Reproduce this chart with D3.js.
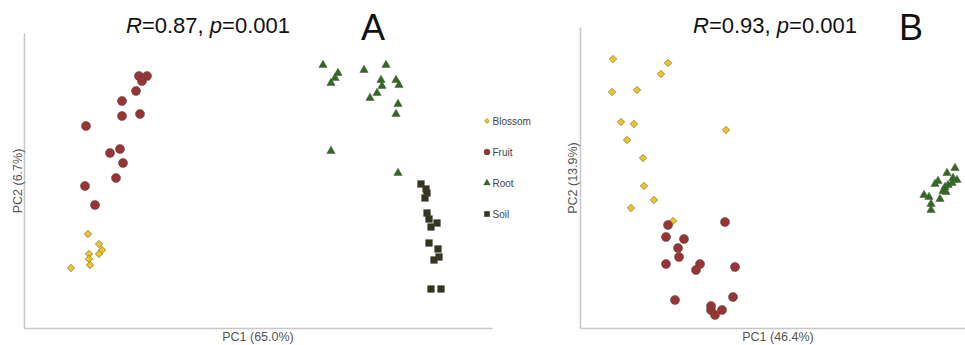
<!DOCTYPE html>
<html>
<head>
<meta charset="utf-8">
<script src="https://cdn.jsdelivr.net/npm/d3@7"></script>
<style>
  body { margin: 0; background: #fff; }
  text { font-family: "Liberation Sans", Arial, sans-serif; }
  .axis path { stroke: #c8c8c8; stroke-width: 1.6; }
</style>
</head>
<body>
<div class="charts"></div>
<script>
// PCoA scores (arbitrary units)
const groups = ["Blossom", "Fruit", "Root", "Soil"];
const groupColors = ["#f0c61c", "#9a3434", "#2f6d1b", "#36351f"];

// panel A
const blossomA = [[64,94],[75,84],[78,78],[75,74],[65,74],[65,69],[66,63],[47,60]];
const fruitA = [[115,252],[123,252],[118,247],[112,237],[98,227],[98,212],[116,214],[62,202],
  [96,179],[86,175],[99,165],[92,150],[61,142],[71,123]];
const rootA = [[299,263],[314,255],[311,250],[307,245],[340,258],[362,263],[357,248],[358,242],
  [372,248],[375,243],[353,235],[346,230],[374,224],[372,214],[307,177],[374,155]];
const soilA = [[397,144],[402,139],[403,135],[401,130],[403,115],[405,109],[413,105],[407,101],
  [405,85],[414,79],[415,71],[410,68],[407,39],[417,39]];

// panel B
const blossomB = [[33,269],[88,265],[81,254],[32,236],[57,238],[41,206],[54,204],[47,188],
  [146,198],[63,170],[64,142],[74,128],[51,120],[93,107]];
const fruitB = [[88,103],[145,106],[86,91],[104,89],[98,80],[99,71],[86,64],[120,64],
  [116,58],[155,61],[95,28],[153,31],[131,22],[131,18],[142,18],[135,13]];
const rootB = [[375,160],[367,155],[373,150],[377,148],[372,145],[358,147],[355,144],[368,143],
  [365,141],[363,137],[366,136],[344,133],[349,131],[360,129],[351,124],[351,118]];
const soilB = [];

const width = 965;
const height = 345;

const svg = d3.select(".charts")
  .append("svg")
    .attr("width", width)
    .attr("height", height);

// marker shapes per group
const shapes = [d3.symbolSquare, d3.symbolCircle, d3.symbolTriangle, d3.symbolSquare];
const sizes = [28, 66, 30, 46];
const legendSizes = [14, 30, 20, 30];

function marker(i, size) {
  return d3.symbol().type(shapes[i]).size(size)();
}

function drawPanel(p) {
  const x = d3.scaleLinear().domain(p.xDomain).range(p.xRange);
  const y = d3.scaleLinear().domain(p.yDomain).range(p.yRange);

  svg.append("g")
    .attr("class", "axis")
    .attr("transform", `translate(0, ${p.yRange[0]})`)
    .call(d3.axisBottom(x).tickValues([]).tickSizeOuter(0));

  svg.append("g")
    .attr("class", "axis")
    .attr("transform", `translate(${p.xRange[0]}, 0)`)
    .call(d3.axisLeft(y).tickValues([]).tickSizeOuter(0));

  p.series.forEach((data, i) => {
    svg.append("g")
      .selectAll("path")
      .data(data)
      .enter()
      .append("path")
        .attr("d", marker(i, sizes[i]))
        .attr("transform", d => `translate(${x(d[0])}, ${y(d[1])})` + (i == 0 ? " rotate(45)" : ""))
        .attr("fill", groupColors[i])
        .attr("stroke", "#4a4a4a")
        .attr("stroke-opacity", 0.6)
        .attr("stroke-width", 0.8);
  });

  // stats title
  const t = svg.append("text")
    .attr("x", p.titleX)
    .attr("y", 33)
    .attr("text-anchor", "middle")
    .style("font-size", "22px")
    .attr("fill", "#111");
  t.append("tspan").style("font-style", "italic").text("R");
  t.append("tspan").text("=" + p.r + ", ");
  t.append("tspan").style("font-style", "italic").text("p");
  t.append("tspan").text("=" + p.p);

  svg.append("text")
    .attr("x", p.letterX)
    .attr("y", 40)
    .style("font-size", "36px")
    .attr("fill", "#111")
    .text(p.letter);

  svg.append("text")
    .attr("x", p.xLabelX)
    .attr("y", 341)
    .attr("text-anchor", "middle")
    .style("font-size", "12.5px")
    .attr("fill", "#555")
    .text(p.xLabel);

  svg.append("text")
    .attr("transform", `translate(${p.yLabelX}, ${p.yLabelY}) rotate(-90)`)
    .attr("text-anchor", "middle")
    .style("font-size", "12.5px")
    .attr("fill", "#555")
    .text(p.yLabel);
}

drawPanel({
  xDomain: [0, 468], xRange: [24, 492],
  yDomain: [0, 295], yRange: [328, 33],
  series: [blossomA, fruitA, rootA, soilA],
  r: "0.87", p: "0.001", titleX: 208,
  letter: "A", letterX: 361,
  xLabel: "PC1 (65.0%)", xLabelX: 258,
  yLabel: "PC2 (6.7%)", yLabelX: 22, yLabelY: 181
});

drawPanel({
  xDomain: [0, 385], xRange: [580, 965],
  yDomain: [0, 301], yRange: [328, 27],
  series: [blossomB, fruitB, rootB, soilB],
  r: "0.93", p: "0.001", titleX: 775,
  letter: "B", letterX: 899,
  xLabel: "PC1 (46.4%)", xLabelX: 778,
  yLabel: "PC2 (13.9%)", yLabelX: 577, yLabelY: 178
});

// legend between the two panels
const legendY = d3.scalePoint().domain(groups).range([121, 214]);

const legend = svg.append("g")
  .selectAll("g")
  .data(groups)
  .enter()
  .append("g")
    .attr("transform", d => `translate(487, ${legendY(d)})`);

legend.append("path")
  .attr("d", (d, i) => marker(i, legendSizes[i]))
  .attr("transform", (d, i) => i == 0 ? "rotate(45)" : "")
  .attr("fill", (d, i) => groupColors[i])
  .attr("stroke", "#4a4a4a")
  .attr("stroke-opacity", 0.5)
  .attr("stroke-width", 0.6);

legend.append("text")
  .attr("x", 5.5)
  .attr("y", 3.5)
  .style("font-size", "10px")
  .attr("fill", "#444")
  .text(d => d);
</script>
</body>
</html>
